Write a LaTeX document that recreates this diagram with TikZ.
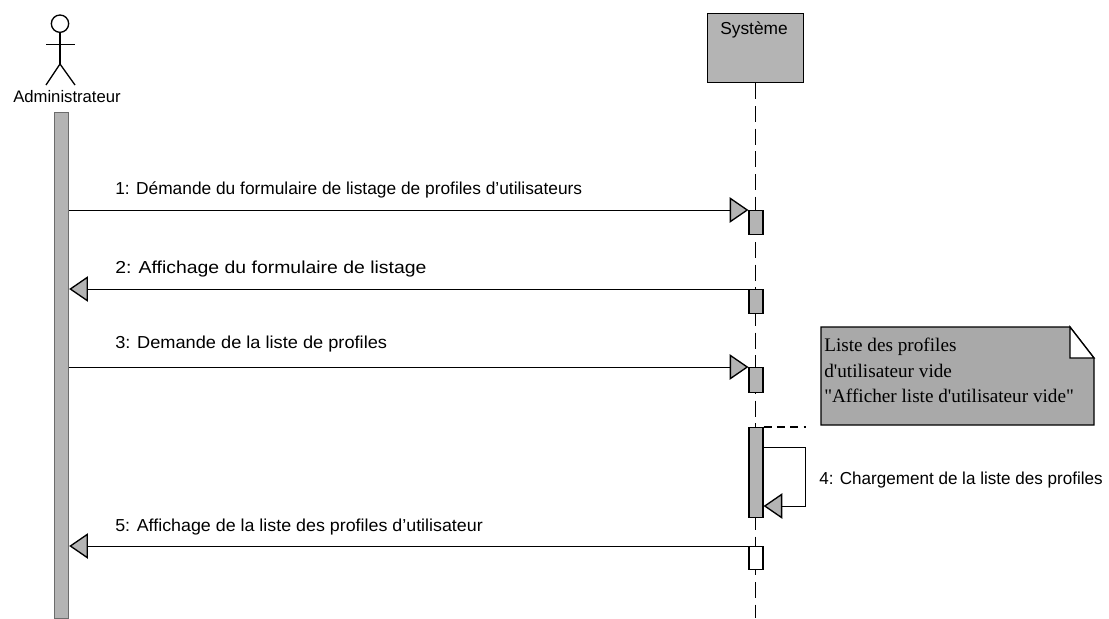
\documentclass[tikz,border=0pt]{standalone}
\usepackage{fontspec}
\setmainfont{Liberation Sans}
\newfontfamily\notefont{Liberation Serif}
\usepackage{xcolor}
\usetikzlibrary{arrows.meta,calc,positioning}
\definecolor{boxCol}{HTML}{B4B4B4}
\definecolor{noteCol}{HTML}{A9A9A9}
\tikzset{
  actbox/.style={draw, line width=0.9pt, fill=boxCol, minimum width=10.5pt, inner sep=0pt},
  lifeline/.style={dash pattern=on 12pt off 5pt, line width=0.8pt},
  msg/.style={line width=0.7pt, -{Triangle[length=14pt,width=19pt,fill=boxCol,line width=1pt]}},
  mlbl/.style={font=\fontsize{13}{15}\selectfont, inner sep=0pt, anchor=west},
  stick/.style={line width=1pt},
}
\begin{document}
\begin{tikzpicture}[x=0.75pt,y=-0.75pt]
  \useasboundingbox (0,0) rectangle (1109,618);
  % actor
  \coordinate (neck) at (60,33);
  \coordinate (hip) at (60,64);
  \node[draw, circle, stick, minimum size=13pt, inner sep=0pt, anchor=south] (head) at (neck) {};
  \draw[stick] (head.south) -- (hip);
  \draw[stick] (46,44.5) coordinate (armL) -- (75,44.5) coordinate (armR);
  \draw[stick] (46,85) coordinate (legL) -- (hip) -- (75,85) coordinate (legR);
  \node[font=\fontsize{12.5}{15}\selectfont, inner sep=0pt] (admin) at (67,97) {Administrateur};
  \node[actbox, anchor=north west, minimum height=379.5pt, draw=boxCol!60!black] (bar) at (54,112) {};

  \node[actbox, anchor=north west, minimum width=72pt, minimum height=51.75pt, line width=1pt] (sys) at (707,13) {};
  \node[font=\fontsize{13}{15}\selectfont, inner sep=0pt] (syslbl) at (754,30) {Système};
  \coordinate (lifeEnd) at (sys.south |- 0,618);
  \draw[lifeline] (sys.south) -- (lifeEnd);

  \node[actbox, anchor=north, minimum height=18pt] (a1) at (756,210) {};
  \node[actbox, anchor=north, minimum height=18pt] (a2) at (756,289) {};
  \node[actbox, anchor=north, minimum height=18.5pt] (a3) at (756,367) {};
  \node[actbox, anchor=north, minimum height=67.5pt] (a4) at (756,427) {};
  \node[actbox, anchor=north, minimum height=17pt, fill=white] (a5) at (756,546) {};

  \draw[msg] (bar.east |- a1.north) -- (a1.north west);
  \draw[msg] (a2.north west) -- (bar.east |- a2.north);
  \draw[msg] (bar.east |- a3.north) -- (a3.north west);
  \draw[msg] (a5.north west) -- (bar.east |- a5.north);
  \coordinate (selfA) at ($(a4.north east)+(0,20)$);
  \coordinate (selfB) at ($(a4.north east)+(0,79)$);
  \draw[msg] (selfA) -- ++(42,0) |- (selfB);

  \node[mlbl] (m1) at (115,190) {1: Démande du formulaire de listage de profiles d'utilisateurs};
  \node[mlbl, transform shape, xscale=1.12] (m2) at (115,269) {2: Affichage du formulaire de listage};
  \node[mlbl, transform shape, xscale=1.05] (m3) at (115,344) {3: Demande de la liste de profiles};
  \node[mlbl, transform shape, xscale=0.985] (m4) at (819,480) {4: Chargement de la liste des profiles};
  \node[mlbl, transform shape, xscale=1.03] (m5) at (115,527) {5: Affichage de la liste des profiles d'utilisateur};

  % note
  \coordinate (nNW) at (821,327);
  \coordinate (nNE) at (1070,327);
  \coordinate (nFold) at (1094,358);
  \coordinate (nSE) at (1094,425);
  \coordinate (nSW) at (821,425);
  \draw[line width=0.9pt, fill=noteCol] (nNW) -- (nNE) -- (nFold) -- (nSE) -- (nSW) -- cycle;
  \draw[stick, fill=white] (nNE) |- (nFold) -- cycle;
  \node[font=\notefont\fontsize{14.4}{19}\selectfont, align=left, inner sep=0pt, anchor=north west] (note) at (824,338)
    {Liste des profiles\\d'utilisateur vide\\"Afficher liste d'utilisateur vide"};
  \draw[dash pattern=on 6pt off 4pt, line width=0.8pt] (a4.north east) -- ++(42,0) coordinate (noteLink);
\end{tikzpicture}
\end{document}
